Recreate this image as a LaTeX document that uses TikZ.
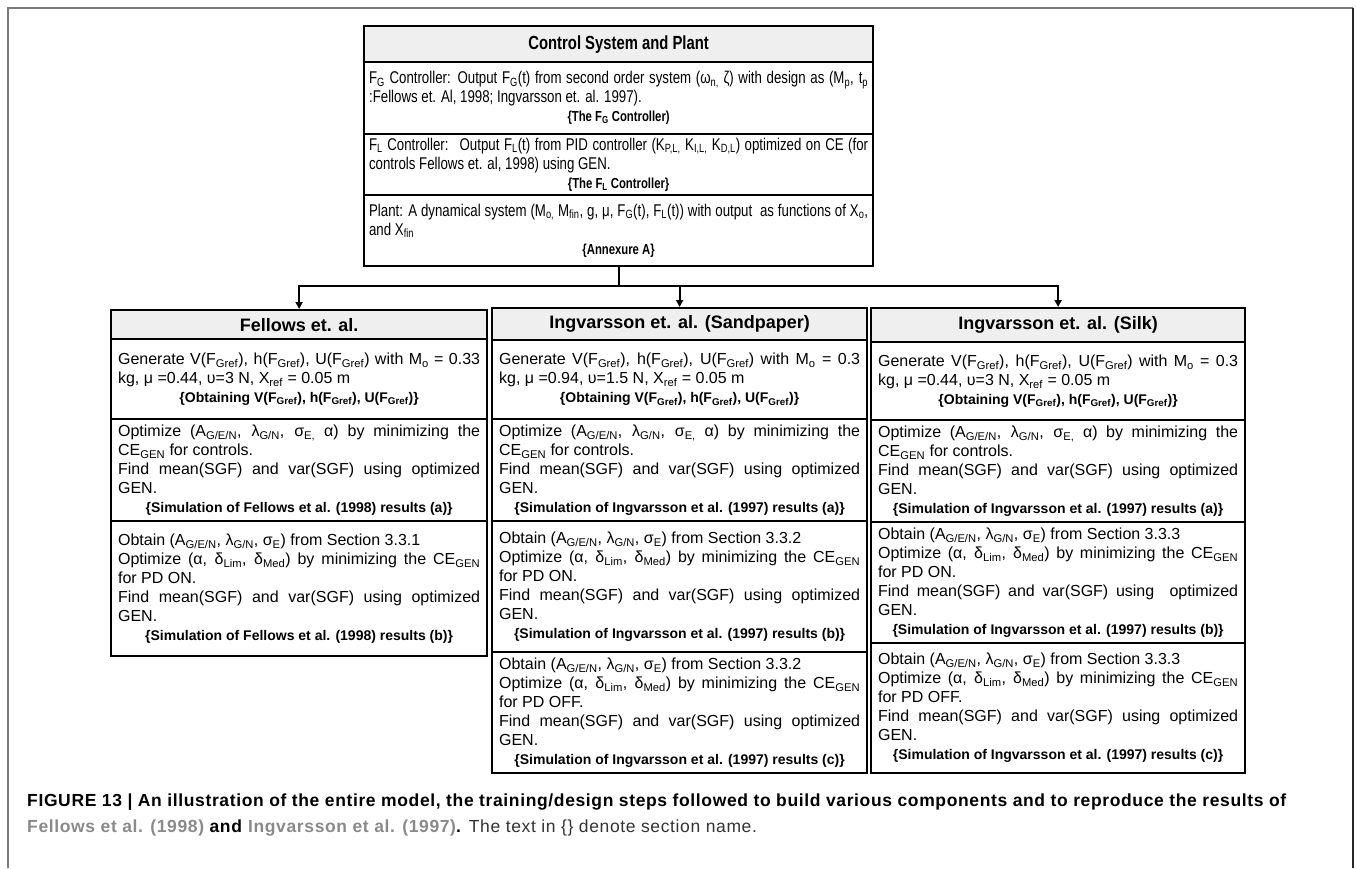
\documentclass[tikz,border=0pt]{standalone}
\usepackage{fontspec}
\setmainfont{Liberation Sans}
\newfontfamily\condfont[FakeStretch=0.78]{Liberation Sans}
\newfontfamily\capfont[LetterSpace=3.6]{Liberation Sans}
\usetikzlibrary{arrows.meta}
\definecolor{titlegray}{HTML}{EFEFEF}
\definecolor{framegray}{HTML}{7A7A7A}
\definecolor{citegray}{HTML}{8A8A8A}
\definecolor{capgray}{HTML}{333333}
\newcommand{\sbs}[1]{\textsubscript{#1}}
\newcommand{\lblfont}{\bfseries\fontsize{14}{17}\selectfont}
\newcommand{\toplblfont}{\condfont\bfseries\fontsize{14.5}{17}\selectfont}
\tikzset{
  boxline/.style={draw, line width=2.2pt},
  cell/.style={boxline, anchor=north west, inner xsep=7pt, inner ysep=0pt, align=justify,
    font=\fontsize{16}{19}\selectfont},
  topcell/.style={boxline, anchor=north west, inner xsep=5pt, inner ysep=0pt, align=justify,
    text width=499pt, font=\condfont\fontsize{17}{19}\selectfont},
  headcell/.style={boxline, anchor=north west, inner sep=0pt, fill=titlegray,
    font=\bfseries\fontsize{18}{21}\selectfont},
  tophead/.style={headcell, minimum width=509pt, font=\condfont\bfseries\fontsize{19}{22}\selectfont},
  conn/.style={line width=2pt},
  arr/.style={conn, -{Triangle[length=7pt,width=7pt]}},
  frame/.style={line width=1.5pt},
  captext/.style={anchor=base west, inner sep=0pt, font=\capfont\fontsize{17.5}{20}\selectfont}
}
\begin{document}
\begin{tikzpicture}[x=1pt,y=-1pt]
\useasboundingbox (0,0) rectangle (1356,868);
% outer frame
\draw[frame, framegray] (8,868) -- (8,8) -- (1353,8);
\draw[frame, black!85] (1353,8) -- (1353,868);

% top box
\node[tophead, minimum height=36pt] (t0) at (363,25) {Control System and Plant};
\node[topcell, minimum height=72pt] (t1) at (363,61) {F\sbs{G} Controller: Output F\sbs{G}(t) from second order system (ω\sbs{n,} ζ) with design as (M\sbs{p}, t\sbs{p}\linebreak :Fellows et. Al, 1998; Ingvarsson et. al. 1997).\par\centerline{\toplblfont\{The F\sbs{G} Controller)}};
\node[topcell, minimum height=61pt] (t2) at (363,133) {F\sbs{L} Controller:~ Output F\sbs{L}(t) from PID controller (K\sbs{P,L,} K\sbs{I,L,} K\sbs{D,L}) optimized on CE (for\linebreak controls Fellows et. al, 1998) using GEN.\par\centerline{\toplblfont\{The F\sbs{L} Controller\}}};
\node[topcell, minimum height=71pt] (t3) at (363,194) {Plant: A dynamical system (M\sbs{o,} M\sbs{fin}, g, μ, F\sbs{G}(t), F\sbs{L}(t)) with output~ as functions of X\sbs{o},\linebreak and X\sbs{fin}\par\centerline{\toplblfont\{Annexure A\}}};

% left column
\node[headcell, minimum width=376pt, minimum height=29pt] (lt) at (110,309) {Fellows et. al.};
\node[cell, text width=362pt, minimum height=80pt] (l1) at (110,338) {Generate V(F\sbs{Gref}), h(F\sbs{Gref}), U(F\sbs{Gref}) with M\sbs{o} = 0.33\linebreak kg, μ =0.44, υ=3 N, X\sbs{ref} = 0.05 m\par\centerline{\lblfont\{Obtaining V(F\sbs{Gref}), h(F\sbs{Gref}), U(F\sbs{Gref})\}}};
\node[cell, text width=362pt, minimum height=102pt] (l2) at (110,418) {Optimize (A\sbs{G/E/N}, λ\sbs{G/N}, σ\sbs{E,} α) by minimizing the\linebreak CE\sbs{GEN} for controls.\par Find mean(SGF) and var(SGF) using optimized\linebreak GEN.\par\centerline{\lblfont\{Simulation of Fellows et al. (1998) results (a)\}}};
\node[cell, text width=362pt, minimum height=135pt] (l3) at (110,520) {Obtain (A\sbs{G/E/N}, λ\sbs{G/N}, σ\sbs{E}) from Section 3.3.1\par Optimize (α, δ\sbs{Lim}, δ\sbs{Med}) by minimizing the CE\sbs{GEN}\linebreak for PD ON.\par Find mean(SGF) and var(SGF) using optimized\linebreak GEN.\par\centerline{\lblfont\{Simulation of Fellows et al. (1998) results (b)\}}};

% middle column
\node[headcell, minimum width=375pt, minimum height=32pt] (mt) at (491,307) {Ingvarsson et. al. (Sandpaper)};
\node[cell, text width=361pt, minimum height=79pt] (m1) at (491,339) {Generate V(F\sbs{Gref}), h(F\sbs{Gref}), U(F\sbs{Gref}) with M\sbs{o} = 0.3\linebreak kg, μ =0.94, υ=1.5 N, X\sbs{ref} = 0.05 m\par\centerline{\lblfont\{Obtaining V(F\sbs{Gref}), h(F\sbs{Gref}), U(F\sbs{Gref})\}}};
\node[cell, text width=361pt, minimum height=102pt] (m2) at (491,418) {Optimize (A\sbs{G/E/N}, λ\sbs{G/N}, σ\sbs{E,} α) by minimizing the\linebreak CE\sbs{GEN} for controls.\par Find mean(SGF) and var(SGF) using optimized\linebreak GEN.\par\centerline{\lblfont\{Simulation of Ingvarsson et al. (1997) results (a)\}}};
\node[cell, text width=361pt, minimum height=131pt] (m3) at (491,520) {Obtain (A\sbs{G/E/N}, λ\sbs{G/N}, σ\sbs{E}) from Section 3.3.2\par Optimize (α, δ\sbs{Lim}, δ\sbs{Med}) by minimizing the CE\sbs{GEN}\linebreak for PD ON.\par Find mean(SGF) and var(SGF) using optimized\linebreak GEN.\par\centerline{\lblfont\{Simulation of Ingvarsson et al. (1997) results (b)\}}};
\node[cell, text width=361pt, minimum height=121pt] (m4) at (491,651) {Obtain (A\sbs{G/E/N}, λ\sbs{G/N}, σ\sbs{E}) from Section 3.3.2\par Optimize (α, δ\sbs{Lim}, δ\sbs{Med}) by minimizing the CE\sbs{GEN}\linebreak for PD OFF.\par Find mean(SGF) and var(SGF) using optimized\linebreak GEN.\par\centerline{\lblfont\{Simulation of Ingvarsson et al. (1997) results (c)\}}};

% right column
\node[headcell, minimum width=374pt, minimum height=34pt] (rt) at (870,307) {Ingvarsson et. al. (Silk)};
\node[cell, text width=360pt, minimum height=78pt] (r1) at (870,341) {Generate V(F\sbs{Gref}), h(F\sbs{Gref}), U(F\sbs{Gref}) with M\sbs{o} = 0.3\linebreak kg, μ =0.44, υ=3 N, X\sbs{ref} = 0.05 m\par\centerline{\lblfont\{Obtaining V(F\sbs{Gref}), h(F\sbs{Gref}), U(F\sbs{Gref})\}}};
\node[cell, text width=360pt, minimum height=102pt] (r2) at (870,419) {Optimize (A\sbs{G/E/N}, λ\sbs{G/N}, σ\sbs{E,} α) by minimizing the\linebreak CE\sbs{GEN} for controls.\par Find mean(SGF) and var(SGF) using optimized\linebreak GEN.\par\centerline{\lblfont\{Simulation of Ingvarsson et al. (1997) results (a)\}}};
\node[cell, text width=360pt, minimum height=121pt] (r3) at (870,521) {Obtain (A\sbs{G/E/N}, λ\sbs{G/N}, σ\sbs{E}) from Section 3.3.3\par Optimize (α, δ\sbs{Lim}, δ\sbs{Med}) by minimizing the CE\sbs{GEN}\linebreak for PD ON.\par Find mean(SGF) and var(SGF) using~ optimized\linebreak GEN.\par\centerline{\lblfont\{Simulation of Ingvarsson et al. (1997) results (b)\}}};
\node[cell, text width=360pt, minimum height=130pt] (r4) at (870,642) {Obtain (A\sbs{G/E/N}, λ\sbs{G/N}, σ\sbs{E}) from Section 3.3.3\par Optimize (α, δ\sbs{Lim}, δ\sbs{Med}) by minimizing the CE\sbs{GEN}\linebreak for PD OFF.\par Find mean(SGF) and var(SGF) using optimized\linebreak GEN.\par\centerline{\lblfont\{Simulation of Ingvarsson et al. (1997) results (c)\}}};

% connectors
\coordinate (bus) at (t3.south |- 0,286);
\draw[conn] (t3.south) -- (bus);
\draw[arr] (bus) -| (lt.north);
\draw[arr] (bus) -| (mt.north);
\draw[arr] (bus) -| (rt.north);

% caption
\node[captext, font=\capfont\bfseries\fontsize{17.5}{20}\selectfont] (cap1) at (27,806) {FIGURE 13 | An illustration of the entire model, the training/design steps followed to build various components and to reproduce the results of};
\node[captext] (cap2) at (27,832) {\textcolor{citegray}{\bfseries Fellows et al. (1998)} \textbf{and} \textcolor{citegray}{\bfseries Ingvarsson et al. (1997)}\textbf{.} \textcolor{capgray}{The text in \{\} denote section name.}};
\end{tikzpicture}
\end{document}
